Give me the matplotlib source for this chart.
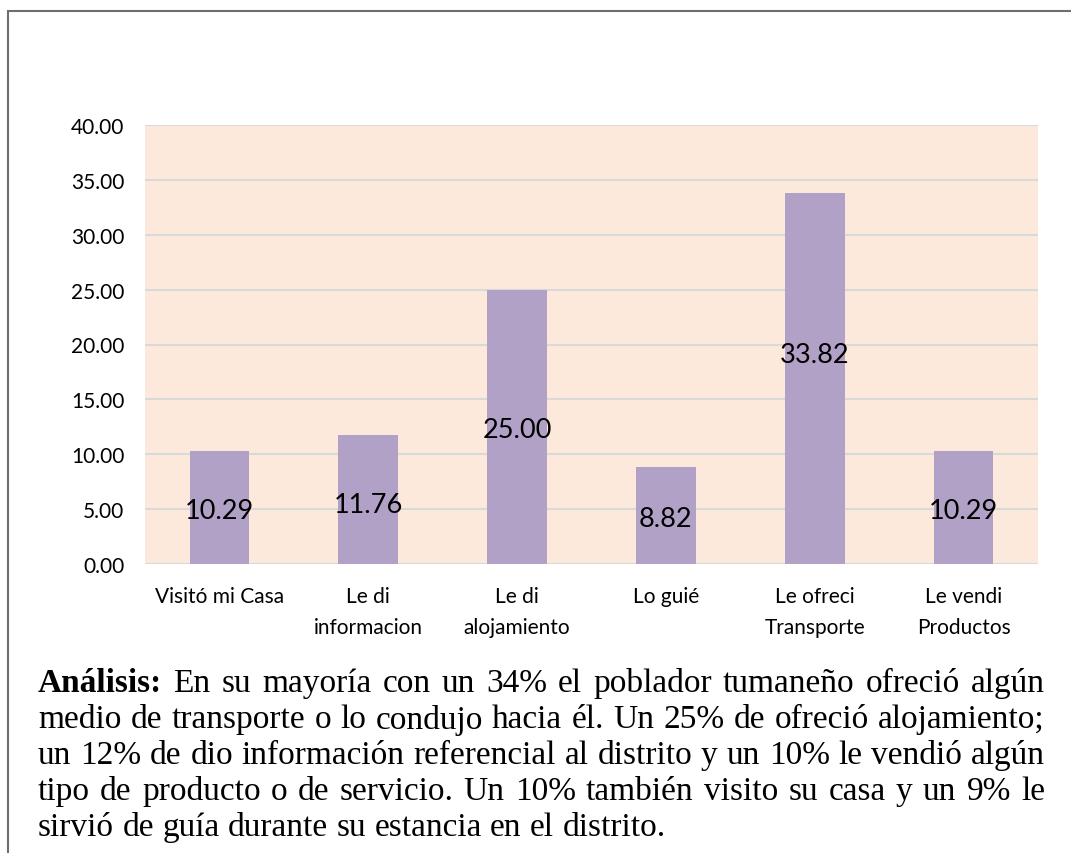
import matplotlib.pyplot as plt
from matplotlib.patches import Rectangle

# datos del gráfico
categorias = ['Visitó mi Casa', 'Le di\ninformacion', 'Le di\nalojamiento',
              'Lo guié', 'Le ofreci\nTransporte', 'Le vendi\nProductos']
valores = [10.29, 11.76, 25.00, 8.82, 33.82, 10.29]
yticks = [0, 5, 10, 15, 20, 25, 30, 35, 40]

# texto del análisis (líneas como en el original)
lineas = [
    'En su mayoría con un 34% el poblador tumaneño ofreció algún',
    'medio de transporte o lo condujo hacia él. Un 25% de ofreció alojamiento;',
    'un 12% de dio información referencial al distrito y un 10% le vendió algún',
    'tipo de producto o de servicio. Un 10% también visito su casa y un 9% le',
    'sirvió de guía durante su estancia en el distrito.',
]

W, H = 1071, 854
fig = plt.figure(figsize=(W / 100, H / 100), dpi=100)

# marco exterior
fig.patches.append(Rectangle((8 / W, -0.1), 1.2, (H - 12) / H + 0.1,
                             transform=fig.transFigure, fill=False,
                             edgecolor='#6e6e6e', linewidth=1.5))

ax = fig.add_axes([145 / W, (H - 565) / H, 893 / W, 439 / H])
ax.set_facecolor('#FCE9DB')
x = range(len(valores))
bars = ax.bar(x, valores, width=0.4, color='#B2A1C7', zorder=2)
ax.set_ylim(0, 40)
ax.set_xlim(-0.5, len(valores) - 0.5)
ax.set_yticks(yticks)
ax.set_yticklabels([f'{v:.2f}' for v in yticks], fontsize=15, family='Lato')
ax.set_xticks(list(x))
ax.set_xticklabels(categorias, fontsize=15, family='Lato', linespacing=1.65,
                   va='top')
ax.tick_params(length=0, pad=15)
ax.tick_params(axis='x', pad=16)
ax.grid(axis='y', color='#D9D9D9', linewidth=1.5, zorder=1)
for s in ax.spines.values():
    s.set_visible(False)

# etiquetas de valores (a media altura de la barra)
desplaz = [-0.3, -0.5, -0.2, -0.3, 2.2, -0.3]
for i, v in enumerate(valores):
    ax.text(i, v / 2 + desplaz[i], f'{v:.2f}', ha='center', va='center',
            fontsize=19.5, family='Lato', color='black', zorder=3)

# texto justificado debajo
fs = 24
left, right = 38, 1045
y0, dy = 684, 36
fig.canvas.draw()
r = fig.canvas.get_renderer()


def ancho(t, bold=False):
    tt = fig.text(0, 0, t, fontsize=fs, family='Liberation Serif',
                  weight='bold' if bold else 'normal')
    w = tt.get_window_extent(r).width
    tt.remove()
    return w


for k, linea in enumerate(lineas):
    palabras = linea.split(' ')
    negrita = [False] * len(palabras)
    if k == 0:
        palabras = ['Análisis:'] + palabras
        negrita = [True] + negrita
    anchos = [ancho(p, b) for p, b in zip(palabras, negrita)]
    if k < len(lineas) - 1:
        esp = (right - left - sum(anchos)) / (len(palabras) - 1)
    else:
        esp = ancho('a b') - ancho('ab')
    xp = left
    yp = y0 + k * dy
    for p, b, w in zip(palabras, negrita, anchos):
        fig.text(xp / W, 1 - yp / H, p, fontsize=fs, family='Liberation Serif',
                 weight='bold' if b else 'normal', va='center', ha='left')
        xp += w + esp

fig.savefig('out.png', dpi=100)
